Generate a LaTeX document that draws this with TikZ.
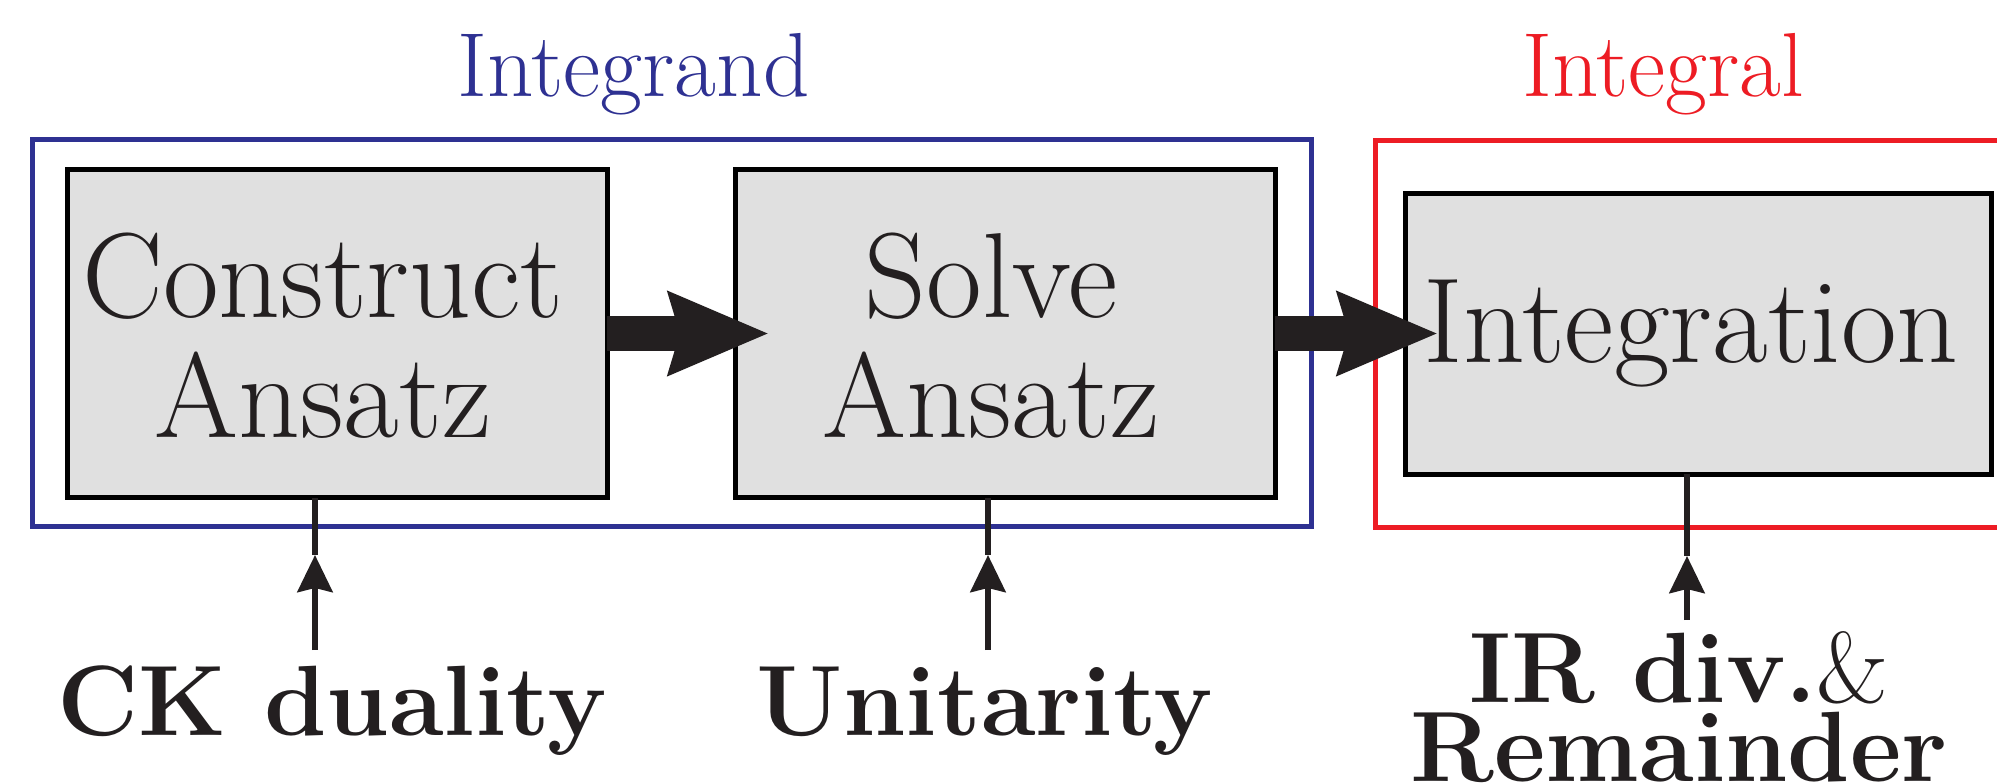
\documentclass[tikz,border=0pt]{standalone}
\usetikzlibrary{arrows.meta}
\definecolor{ink}{RGB}{35,31,32}
\definecolor{boxgray}{RGB}{224,224,224}
\definecolor{grpblue}{RGB}{46,49,146}
\definecolor{grpred}{RGB}{237,28,36}
\begin{document}
\begin{tikzpicture}[x=0.5pt,y=-0.5pt,
  stagebox/.style={draw=black, fill=boxgray, line width=2.5pt, inner sep=0pt, outer sep=0pt},
  boxtext/.style={inner sep=0pt, text=ink, font=\fontsize{60.5}{60}\selectfont, anchor=base},
  titletext/.style={inner sep=0pt, font=\fontsize{45.5}{45.5}\selectfont, anchor=base},
  inputtext/.style={inner sep=0pt, text=ink, font=\fontsize{50}{50}\selectfont\bfseries, anchor=base},
  bigarrow/.style={draw=ink, line width=17.5pt, -{Stealth[length=49.5pt, width=40pt, inset=5pt]}},
  thinarrow/.style={draw=ink, line width=3pt, -{Stealth[length=18.5pt, width=17.5pt, inset=2pt]}},
  thinline/.style={draw=ink, line width=3pt},
  groupline/.style={line width=2.5pt}
]
\useasboundingbox (0,0) rectangle (1997,782);

% group frames
\draw[groupline, draw=grpblue] (32,139.5) rectangle (1311,526);
\draw[groupline, draw=grpred] (1375,140) rectangle (2040,527);

% titles
\node[titletext, text=grpblue] (integrandT) at (633.5,96) {Integrand};
\node[titletext, text=grpred] (integralT) at (1663,96) {Integral};

% stage boxes
\node[stagebox, minimum width=269.75pt, minimum height=164pt] (construct) at (337.25,333.5) {};
\node[stagebox, minimum width=270pt, minimum height=164pt] (solve) at (1005,333.5) {};
\node[stagebox, minimum width=293pt, minimum height=140.5pt] (integration) at (1698,333.5) {};

\node[boxtext] (constructA) at (323,317) {Construct};
\node[boxtext] (constructB) at (323,437) {Ansatz};
\node[boxtext] (solveA) at (991,317) {Solve};
\node[boxtext] (solveB) at (991,437) {Ansatz};
\node[boxtext] (integrationT) at (1691,362) {Integration};

% big arrows
\draw[bigarrow, shorten >=-17pt] (construct.east) -- (solve.west);
\draw[bigarrow, shorten >=-16.5pt] (solve.east) -- (integration.west);

% inputs
\node[inputtext] (ck) at (332,735) {CK duality};
\node[inputtext] (unit) at (985,735) {Unitarity};
\node[inputtext] (ir) at (1679,702) {IR div.{\mdseries\&}};
\node[inputtext] (rem) at (1679,781) {Remainder};

\coordinate (cktail) at (315,650);
\coordinate (cktip) at (315,555);
\coordinate (untail) at (988,650);
\coordinate (untip) at (988,555);
\coordinate (irtail) at (1687,620);
\coordinate (irtip) at (1687,556);

\draw[thinarrow] (cktail) -- (cktip);
\draw[thinline] (cktip) -- (cktip |- construct.south);
\draw[thinarrow] (untail) -- (untip);
\draw[thinline] (untip) -- (untip |- solve.south);
\draw[thinarrow] (irtail) -- (irtip);
\draw[thinline] (irtip) -- (irtip |- integration.south);
\end{tikzpicture}
\end{document}
